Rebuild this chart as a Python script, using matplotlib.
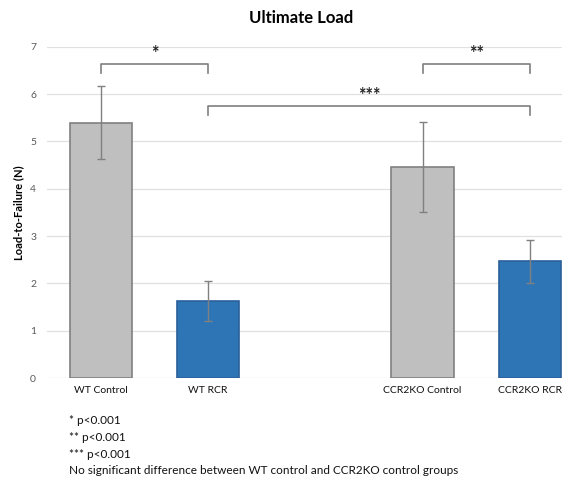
import matplotlib
matplotlib.use("Agg")
import matplotlib.pyplot as plt

plt.rcParams["font.family"] = ["Lato", "DejaVu Sans"]

groups = ["WT Control", "WT RCR", "CCR2KO Control", "CCR2KO RCR"]
positions = [0, 1, 3, 4]
means = [5.4, 1.63, 4.46, 2.47]
errors = [0.77, 0.42, 0.95, 0.45]
colors = ["#bfbfbf", "#2e75b6", "#bfbfbf", "#2e75b6"]
edges = ["#808080", "#2a6099", "#808080", "#2a6099"]

# (left index, right index, bracket height, label)
brackets = [(0, 1, 6.64, "*"), (2, 3, 6.64, "**"), (1, 3, 5.75, "***")]
notes = ["* p<0.001", "** p<0.001", "*** p<0.001",
         "No significant difference between WT control and CCR2KO control groups"]

fig = plt.figure(figsize=(5.62, 4.78), dpi=100)
ax = fig.add_axes([0.084, 0.209, 0.916, 0.693])

ax.bar(positions, means, width=0.58, color=colors, edgecolor=edges, linewidth=1.2, zorder=2)
ax.errorbar(positions, means, yerr=errors, fmt="none", ecolor="#808080",
            elinewidth=1, capsize=3, capthick=1, zorder=3)

for i, j, h, lab in brackets:
    x1, x2 = positions[i], positions[j]
    ax.plot([x1, x1, x2, x2], [h - 0.2, h, h, h - 0.2], color="#7f7f7f", lw=1.2, zorder=3)
    ax.text((x1 + x2) / 2, h + 0.04, lab, ha="center", va="bottom",
            fontsize=13, fontweight="bold", color="#222222")

ax.set_xlim(-0.5, 4.3)
ax.set_ylim(0, 7)
ax.set_yticks(range(0, 8))
ax.set_xticks(positions)
ax.set_xticklabels(groups, fontsize=7.5, color="#111111")
ax.tick_params(axis="y", labelsize=7.5, labelcolor="#595959", length=0, pad=8)
ax.tick_params(axis="x", length=0, pad=6)
ax.grid(axis="y", color="#e0e0e0", lw=0.9, zorder=0)
for s in ax.spines.values():
    s.set_visible(False)

ax.set_ylabel("Load-to-Failure (N)", fontsize=8, fontweight="bold", labelpad=4)
fig.text(0.535, 0.962, "Ultimate Load", ha="center", va="center", fontsize=12, fontweight="bold")

for k, note in enumerate(notes):
    fig.text(0.122, 1 - (421 + k * 16.5) / 478, note, ha="left", va="center", fontsize=8.5,
             color="#111111")

fig.savefig("out.png", dpi=100)
